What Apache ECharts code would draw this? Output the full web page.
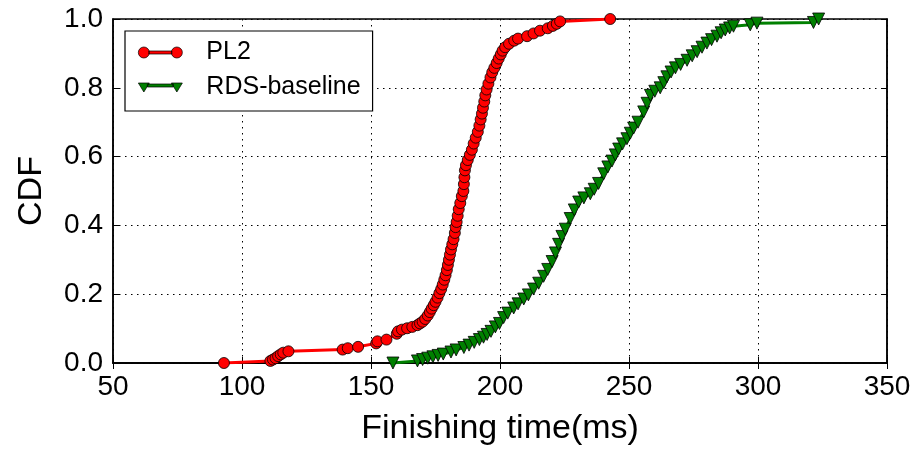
<!DOCTYPE html>
<html>
<head>
<meta charset="utf-8">
<script src="https://cdn.jsdelivr.net/npm/echarts@6/dist/echarts.min.js"></script>
<style>html,body{margin:0;padding:0;background:#fff;}#c{width:921px;height:451px;}</style>
</head>
<body>
<div id="c"></div>
<script>
const seriesNames = ['PL2', 'RDS-baseline'];
const xTicks = [50, 100, 150, 200, 250, 300, 350];
const yTicks = [0.0, 0.2, 0.4, 0.6, 0.8, 1.0];

const pl2Time = [93,111,112,113,114,115,116,118,139,141,145,152,152.5,156,160,160.5,162,164,166,168,169,170,171,172,172.8,173.5,174.3,175,175.8,176.5,177.2,177.8,178.4,178.9,179.4,179.8,180.2,180.6,181.0,181.5,182.0,182.5,182.8,183.2,183.6,184.0,184.6,185.2,185.8,186.0,186.2,186.4,186.8,187.5,188.3,189.1,189.8,190.6,191.4,192.0,192.5,193.0,193.4,193.9,194.3,194.8,195.5,196.3,197.0,197.8,198.7,199.5,200.3,201.0,202.0,203.5,205.5,207.0,210.5,213.0,215.5,218.5,220.5,222.0,223.3,242.7];
const pl2Cdf = [0.000,0.006,0.010,0.014,0.020,0.025,0.030,0.034,0.039,0.043,0.047,0.057,0.063,0.068,0.085,0.092,0.097,0.101,0.105,0.110,0.115,0.120,0.128,0.138,0.148,0.158,0.168,0.178,0.190,0.203,0.215,0.228,0.242,0.255,0.270,0.285,0.300,0.315,0.330,0.345,0.360,0.378,0.395,0.410,0.428,0.447,0.465,0.485,0.500,0.520,0.540,0.560,0.575,0.590,0.605,0.620,0.638,0.655,0.672,0.690,0.708,0.725,0.742,0.760,0.778,0.795,0.812,0.830,0.845,0.858,0.872,0.885,0.897,0.908,0.918,0.928,0.937,0.943,0.950,0.958,0.966,0.973,0.980,0.986,0.993,1.000];

const rdsTime = [158.5,168,170,172,174,176,178,181,183,186,188,190,192,193.6,195,196.5,198.2,199.8,201.4,203,205.3,207,209.2,211,213,215,216.9,218.5,220.2,221.5,222.7,224,225.3,227.2,228.8,230.5,232.5,235,236.5,238.2,240.2,241.8,243.4,244.7,246,247.5,249.2,250.5,251.8,253.5,255.7,257,258.3,260,262.1,263.5,264.7,266.3,268,270,272.5,274.5,276.4,278.3,280.2,282,284.1,285.7,287.3,289,290.5,297,299.6,321.5,323.5];
const rdsCdf = [0.000,0.006,0.010,0.014,0.018,0.022,0.026,0.032,0.038,0.045,0.052,0.060,0.068,0.075,0.083,0.092,0.105,0.115,0.132,0.145,0.160,0.172,0.186,0.198,0.215,0.232,0.252,0.272,0.295,0.320,0.345,0.368,0.389,0.420,0.445,0.468,0.480,0.492,0.505,0.522,0.550,0.570,0.587,0.605,0.622,0.637,0.652,0.668,0.683,0.700,0.730,0.755,0.778,0.790,0.800,0.815,0.832,0.846,0.858,0.868,0.880,0.893,0.905,0.918,0.930,0.940,0.950,0.960,0.968,0.974,0.979,0.983,0.988,0.990,1.000];

const FONT = "'Liberation Sans', Arial, Helvetica, sans-serif";
const pair = (xs, ys) => xs.map((x, i) => [x, ys[i]]);

const chart = echarts.init(document.getElementById('c'), null, {renderer: 'canvas'});
const dotted = {color: '#000', width: 1, type: [1.5, 4.5]};
const baseX = {
  type: 'value', min: xTicks[0], max: xTicks[xTicks.length - 1], interval: 50
};
const baseY = {
  type: 'value', min: yTicks[0], max: yTicks[yTicks.length - 1], interval: 0.2
};
chart.setOption({
  animation: false,
  backgroundColor: '#fff',
  grid: {left: 113, right: 34, top: 19, bottom: 87, show: true, borderColor: '#000', borderWidth: 1.5, backgroundColor: 'transparent'},
  legend: {
    left: 125, top: 31, orient: 'vertical',
    backgroundColor: '#fff', borderColor: '#000', borderWidth: 1.2, borderRadius: 0,
    padding: [9, 12, 11, 13], itemGap: 10, itemWidth: 44, itemHeight: 11,
    textStyle: {fontFamily: FONT, fontSize: 25, color: '#000', padding: [0, 0, 0, 19]},
    data: [
      {name: seriesNames[0], icon: 'path://M0,5.5a5.5,5.5 0 1,1 11,0a5.5,5.5 0 1,1 -11,0z M10.5,4h23v3h-23z M33,5.5a5.5,5.5 0 1,1 11,0a5.5,5.5 0 1,1 -11,0z', itemStyle: {color: '#ff0000', borderColor: '#000', borderWidth: 0.7}},
      {name: seriesNames[1], icon: 'path://M0,1h11l-5.5,9z M9,2h26v3h-26z M33,1h11l-5.5,9z', itemStyle: {color: '#008000', borderColor: '#000', borderWidth: 0.7}}
    ]
  },
  xAxis: [
    Object.assign({}, baseX, {
      position: 'bottom',
      name: 'Finishing time(ms)', nameLocation: 'middle', nameGap: 49,
      nameTextStyle: {fontFamily: FONT, fontSize: 34, color: '#000'},
      axisLine: {show: true, lineStyle: {color: '#000', width: 1.5}},
      axisTick: {show: true, inside: true, length: 6, lineStyle: {color: '#000', width: 1}},
      axisLabel: {fontFamily: FONT, fontSize: 28, color: '#000', margin: 10},
      splitLine: {show: true, lineStyle: dotted}
    }),
    Object.assign({}, baseX, {
      position: 'top',
      axisLine: {show: true, lineStyle: {color: '#000', width: 1.5}},
      axisTick: {show: true, inside: true, length: 6, lineStyle: {color: '#000', width: 1}},
      axisLabel: {show: false}, splitLine: {show: false}
    })
  ],
  yAxis: [
    Object.assign({}, baseY, {
      position: 'left',
      name: 'CDF', nameLocation: 'middle', nameGap: 64,
      nameTextStyle: {fontFamily: FONT, fontSize: 34, color: '#000'},
      axisLine: {show: true, lineStyle: {color: '#000', width: 1.5}},
      axisTick: {show: true, inside: true, length: 6, lineStyle: {color: '#000', width: 1}},
      axisLabel: {fontFamily: FONT, fontSize: 28, color: '#000', margin: 10, formatter: v => v.toFixed(1)},
      splitLine: {show: true, lineStyle: dotted}
    }),
    Object.assign({}, baseY, {
      position: 'right',
      axisLine: {show: true, lineStyle: {color: '#000', width: 1.5}},
      axisTick: {show: true, inside: true, length: 6, lineStyle: {color: '#000', width: 1}},
      axisLabel: {show: false}, splitLine: {show: false}
    })
  ],
  series: [
    {
      name: seriesNames[0], type: 'line', xAxisIndex: 0, yAxisIndex: 0,
      data: pair(pl2Time, pl2Cdf),
      symbol: 'circle', symbolSize: 11, showAllSymbol: true,
      lineStyle: {color: '#ff0000', width: 3},
      itemStyle: {color: '#ff0000', borderColor: '#000', borderWidth: 0.8},
      z: 3
    },
    {
      name: seriesNames[1], type: 'line', xAxisIndex: 0, yAxisIndex: 0,
      data: pair(rdsTime, rdsCdf),
      symbol: 'triangle', symbolRotate: 180, symbolSize: 12, showAllSymbol: true,
      lineStyle: {color: '#008000', width: 3},
      itemStyle: {color: '#008000', borderColor: '#000', borderWidth: 0.8},
      z: 2
    }
  ]
});
</script>
</body>
</html>
